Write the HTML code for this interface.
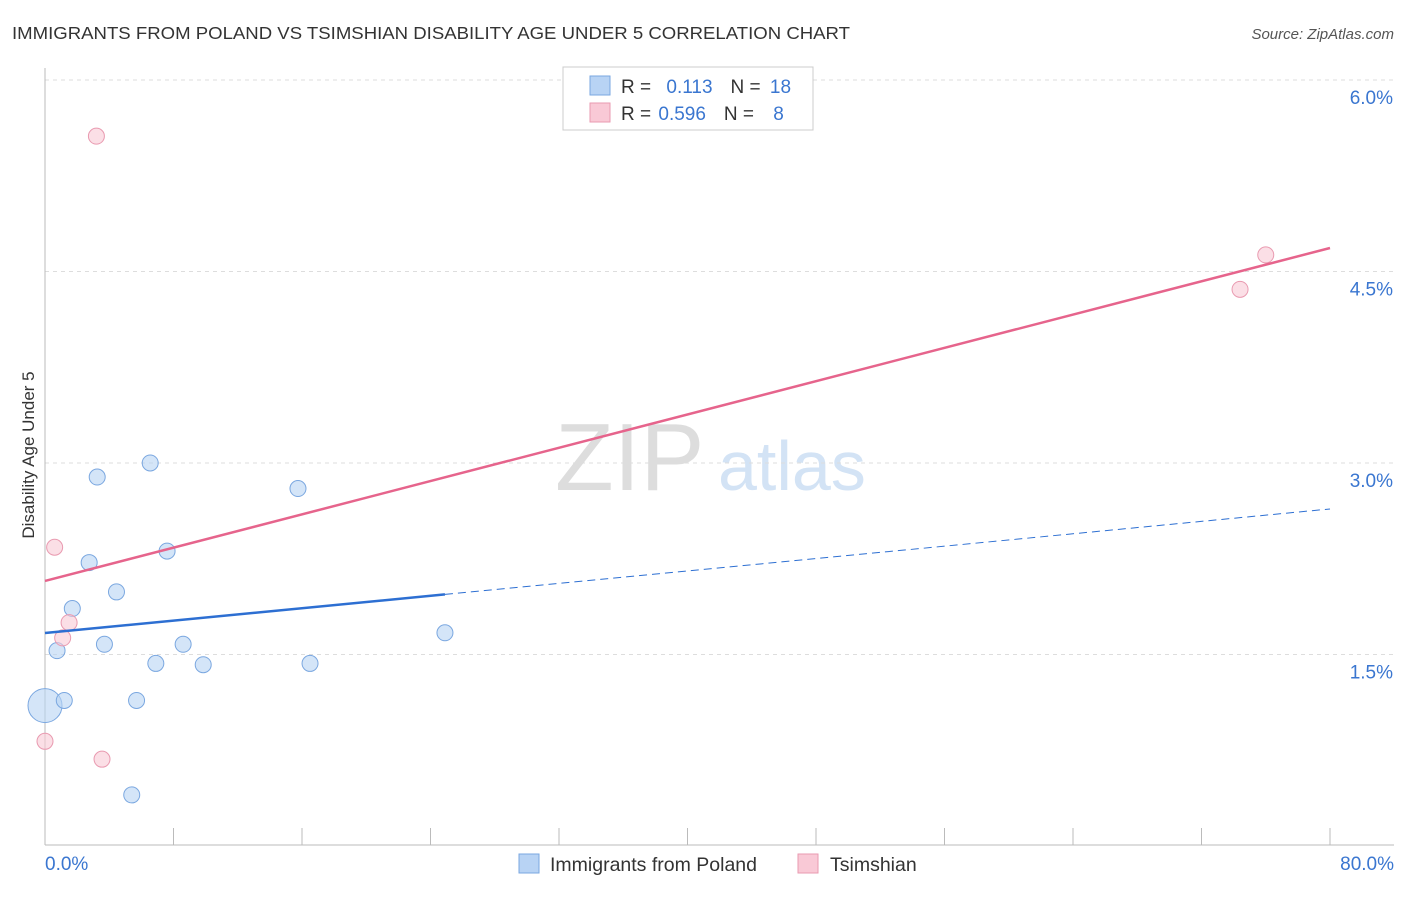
<!DOCTYPE html>
<html><head><meta charset="utf-8"><style>
body{margin:0;background:#fff;font-family:"Liberation Sans",sans-serif;}
svg text{font-family:"Liberation Sans",sans-serif;}
</style></head><body>
<svg id="c" width="1406" height="892">
<text x="12" y="39" font-size="17.5" fill="#333" textLength="838" lengthAdjust="spacingAndGlyphs">IMMIGRANTS FROM POLAND VS TSIMSHIAN DISABILITY AGE UNDER 5 CORRELATION CHART</text>
<text x="1394" y="39" font-size="15" fill="#555" font-style="italic" text-anchor="end">Source: ZipAtlas.com</text>
<text x="0" y="0" transform="translate(34,455) rotate(-90)" font-size="17" fill="#333" text-anchor="middle">Disability Age Under 5</text>
<text x="555" y="490" font-size="96" fill="#ddd" font-family="Liberation Serif">ZIP</text>
<text x="718" y="490" font-size="70" fill="#d3e3f5">atlas</text>
<g id="grid"></g><g id="marks"></g>
<rect x="563" y="67" width="250" height="63" fill="#fff" stroke="#ccc"/>
<rect x="590" y="76" width="20" height="19" fill="#b8d3f4" stroke="#7aa7e0"/>
<rect x="590" y="103" width="20" height="19" fill="#f9c9d6" stroke="#e99ab0"/>
<text x="621" y="93" font-size="19" fill="#333">R = <tspan fill="#3a76d0" dx="10">0.113</tspan><tspan fill="#333" dx="18">N = </tspan><tspan fill="#3a76d0" dx="4">18</tspan></text>
<text x="621" y="120" font-size="19" fill="#333">R = <tspan fill="#3a76d0" dx="2">0.596</tspan><tspan fill="#333" dx="18">N = </tspan><tspan fill="#3a76d0" dx="14">8</tspan></text>
<rect x="519" y="854" width="20" height="19" fill="#b8d3f4" stroke="#7aa7e0"/>
<text x="550" y="871" font-size="19.5" fill="#333">Immigrants from Poland</text>
<rect x="798" y="854" width="20" height="19" fill="#f9c9d6" stroke="#e99ab0"/>
<text x="830" y="871" font-size="19.5" fill="#333">Tsimshian</text>
</svg>
<script>
const yTicks=[1.5,3.0,4.5,6.0];
const xTickLabels=["0.0%","80.0%"];
const polandX=[0,0.75,1.2,1.7,2.75,3.25,3.7,4.45,5.4,5.7,6.55,6.9,7.6,8.6,9.85,15.75,16.5,24.9];
const polandY=[1.1,1.53,1.14,1.86,2.22,2.89,1.58,1.99,0.4,1.14,3.0,1.43,2.31,1.58,1.42,2.8,1.43,1.67];
const tsimX=[3.2,0.6,1.1,1.5,0,3.55,74.4,76.0];
const tsimY=[5.56,2.34,1.63,1.75,0.82,0.68,4.36,4.63];
const polandTrend=[1.668,2.64];
const polandSolidEnd=24.9;
const tsimTrend=[2.076,4.684];
const NS="http://www.w3.org/2000/svg";
const X=v=>45+v/80*1285, Y=v=>846-v*127.67;
function mk(p,t,a){const e=document.createElementNS(NS,t);for(const k in a)e.setAttribute(k,a[k]);p.appendChild(e);return e;}
const g=document.getElementById('grid'),m=document.getElementById('marks');
yTicks.forEach(v=>{
 const l=mk(g,'line',{x1:45,x2:1394,y1:Y(v),y2:Y(v),stroke:'#ddd','stroke-dasharray':'4,4'});
 
 
 const t=mk(g,'text',{x:1393,y:Y(v)+24,'font-size':19,fill:'#3a76d0','text-anchor':'end'});t.textContent=v.toFixed(1)+'%';
 
 
});
const ax=mk(g,'line',{x1:45,x2:1394,y1:845,y2:845,stroke:'#bbb'});


const ay=mk(g,'line',{x1:45,x2:45,y1:68,y2:845,stroke:'#bbb'});


for(let i=0;i<=10;i++){const t=mk(g,'line',{x1:X(i*8),x2:X(i*8),y1:828,y2:845,stroke:'#bbb'});
 
 }
[[0,'start',45],[1,'end',1394]].forEach(([i,a,x])=>{const t=mk(g,'text',{x:x,y:870,'font-size':19,fill:'#3a76d0','text-anchor':a});t.textContent=xTickLabels[i];
 
 });
polandX.forEach((x,i)=>{const c=mk(m,'circle',{cx:X(x),cy:Y(polandY[i]),r:i==0?17:8,fill:'rgba(184,211,244,0.6)',stroke:'#7aa7e0'});
 
 });
tsimX.forEach((x,i)=>{const c=mk(m,'circle',{cx:X(x),cy:Y(tsimY[i]),r:8,fill:'rgba(249,201,214,0.6)',stroke:'#e99ab0'});
 
 });
const pb=v=>polandTrend[0]+(polandTrend[1]-polandTrend[0])*v/80;
const l1=mk(m,'line',{x1:X(0),y1:Y(pb(0)),x2:X(polandSolidEnd),y2:Y(pb(polandSolidEnd)),stroke:'#2d6fd2','stroke-width':2.5});


const l2=mk(m,'line',{x1:X(polandSolidEnd),y1:Y(pb(polandSolidEnd)),x2:X(80),y2:Y(pb(80)),stroke:'#2d6fd2','stroke-width':1,'stroke-dasharray':'8,5'});


const l3=mk(m,'line',{x1:X(0),y1:Y(tsimTrend[0]),x2:X(80),y2:Y(tsimTrend[1]),stroke:'#e6648c','stroke-width':2.5});


</script>
</body></html>
